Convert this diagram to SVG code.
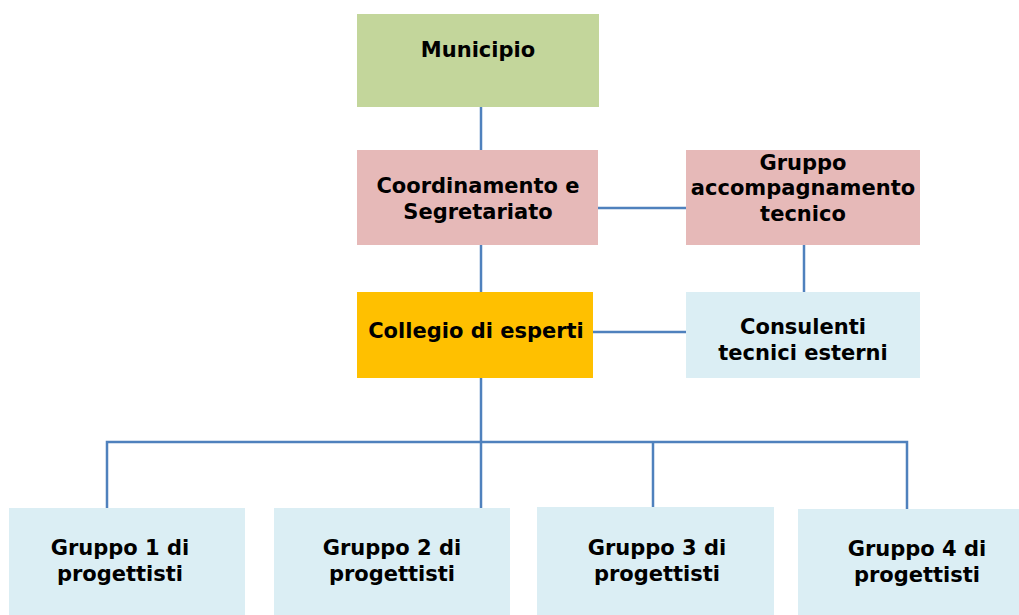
<svg xmlns="http://www.w3.org/2000/svg" width="1019" height="615" viewBox="0 0 1019 615">
<style>
text{font-family:"DejaVu Sans","Verdana",sans-serif;font-weight:bold;font-size:21px;fill:#000;text-anchor:middle}
.c{stroke:#4F81BD;stroke-width:2.5;fill:none}
.g{fill:#C3D69B}.p{fill:#E6B9B8}.o{fill:#FFC000}.b{fill:#DBEEF4}
</style>
<rect width="1019" height="615" fill="#fff"/>
<g id="connectors">
<line class="c" x1="481" y1="107" x2="481" y2="150"/>
<line class="c" x1="481" y1="245" x2="481" y2="292"/>
<line class="c" x1="598" y1="208" x2="686" y2="208"/>
<line class="c" x1="804" y1="245" x2="804" y2="292"/>
<line class="c" x1="593" y1="332" x2="686" y2="332"/>
<line class="c" x1="481" y1="378" x2="481" y2="508"/>
<polyline class="c" points="107,508 107,442 907,442 907,509"/>
<line class="c" x1="653" y1="442" x2="653" y2="507"/>
</g>
<g id="municipio"><rect class="g" x="357" y="14" width="242" height="93"/><text x="478" y="57">Municipio</text></g>
<g id="coordinamento"><rect class="p" x="357" y="150" width="241" height="95"/><text x="478" y="193">Coordinamento e</text><text x="478" y="219">Segretariato</text></g>
<g id="accompagnamento"><rect class="p" x="686" y="150" width="234" height="95"/><text x="803" y="170">Gruppo</text><text x="803" y="195">accompagnamento</text><text x="803" y="221">tecnico</text></g>
<g id="collegio"><rect class="o" x="357" y="292" width="236" height="86"/><text x="476" y="338">Collegio di esperti</text></g>
<g id="consulenti"><rect class="b" x="686" y="292" width="234" height="86"/><text x="803" y="334">Consulenti</text><text x="803" y="360">tecnici esterni</text></g>
<g id="gruppo1"><rect class="b" x="9" y="508" width="236" height="107"/><text x="120" y="555">Gruppo 1 di</text><text x="120" y="581">progettisti</text></g>
<g id="gruppo2"><rect class="b" x="274" y="508" width="236" height="107"/><text x="392" y="555">Gruppo 2 di</text><text x="392" y="581">progettisti</text></g>
<g id="gruppo3"><rect class="b" x="537" y="507" width="237" height="108"/><text x="657" y="555">Gruppo 3 di</text><text x="657" y="581">progettisti</text></g>
<g id="gruppo4"><rect class="b" x="798" y="509" width="221" height="106"/><text x="917" y="556">Gruppo 4 di</text><text x="917" y="582">progettisti</text></g>
</svg>
